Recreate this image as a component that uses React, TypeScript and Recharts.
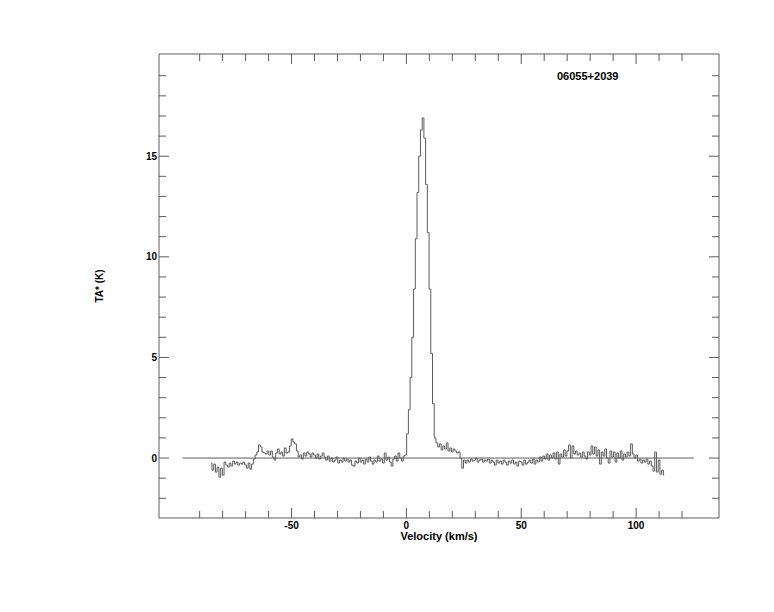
import React from 'react';
import { LineChart, Line, XAxis, YAxis } from 'recharts';

const SOURCE = '06055+2039';
const X_TITLE = 'Velocity (km/s)';
const Y_TITLE = 'TA* (K)';

// channel grid of the spectrum
const V_START = -85;
const V_STEP = 0.75;

// antenna temperature per channel (K)
const TA = [
  // -85 .. -70.75
  -0.25, -0.6, -0.3, -0.7, -0.45, -0.95, -0.5, -0.85, -0.2, -0.35, -0.45, -0.25, -0.4, -0.15, -0.3, -0.2, -0.35, -0.25, -0.3, -0.2,
  // -70 .. -55.75
  -0.35, -0.5, -0.25, -0.55, -0.3, -0.05, 0.15, 0.3, 0.65, 0.55, 0.3, 0.25, 0.2, 0.35, 0.15, 0.35, 0.05, -0.1, 0.25, 0.45,
  // -55 .. -40.75
  0.2, 0.3, 0.1, 0.5, 0.25, 0.3, 0.6, 0.95, 0.8, 0.7, 0.35, 0.05, 0.15, -0.05, 0.25, 0.1, 0.3, 0.2, 0.05, 0.25,
  // -40 .. -25.75
  0.15, 0.0, 0.2, -0.05, 0.1, 0.25, 0.05, -0.1, 0.1, -0.15, 0.0, -0.2, -0.1, 0.05, -0.25, -0.1, -0.2, 0.0, -0.15, -0.05,
  // -25 .. -10.75
  -0.2, -0.1, -0.35, -0.4, -0.15, -0.25, 0.0, -0.2, -0.1, -0.3, -0.05, -0.2, 0.05, -0.15, -0.3, -0.1, -0.2, 0.1, -0.15, -0.05,
  // -10 .. 4.25
  -0.25, 0.25, -0.1, 0.05, -0.2, -0.4, -0.05, 0.1, -0.15, 0.25, 0.0, -0.15, 0.1, 0.15, 1.2, 2.4, 4.0, 6.0, 8.4, 10.9,
  // 5 .. 19.25
  13.2, 15.0, 16.3, 16.9, 15.9, 13.6, 11.2, 8.4, 5.2, 2.7, 1.0, 0.75, 0.55, 0.7, 0.4, 0.6, 0.45, 0.75, 0.35, 0.5,
  // 20 .. 34.25
  0.3, 0.45, 0.35, 0.25, 0.3, 0.0, -0.5, -0.1, -0.25, -0.1, -0.2, -0.05, -0.15, -0.1, 0.0, -0.2, -0.1, -0.05, -0.2, -0.1,
  // 35 .. 49.25
  -0.15, -0.05, -0.25, -0.1, -0.2, -0.35, -0.1, -0.25, -0.15, -0.3, -0.1, -0.2, -0.35, -0.15, -0.25, -0.1, -0.3, -0.2, -0.4, -0.15,
  // 50 .. 64.25
  -0.2, -0.35, -0.1, -0.3, -0.2, -0.1, -0.25, -0.05, -0.3, -0.1, -0.2, 0.05, -0.15, 0.1, -0.05, 0.2, -0.1, 0.15, 0.0, 0.25,
  // 65 .. 79.25
  -0.05, 0.3, -0.3, 0.2, 0.05, 0.4, 0.1, 0.35, 0.65, 0.0, 0.6, 0.2, 0.35, 0.15, 0.25, 0.05, 0.3, 0.1, -0.05, 0.3,
  // 80 .. 94.25
  0.15, 0.6, 0.2, 0.55, 0.1, 0.4, -0.3, 0.3, 0.1, 0.45, 0.0, -0.25, 0.35, 0.05, 0.3, -0.2, 0.25, 0.0, 0.35, -0.1,
  // 95 .. 112.25
  0.2, 0.05, 0.3, 0.1, 0.7, 0.2, 0.0, 0.15, -0.15, -0.05, -0.25, -0.1, -0.2, -0.05, -0.3, -0.15, -0.4, -0.65, 0.3, -0.7, -0.1, -0.8, -0.6, -0.85,
];

// zero baseline drawn under the spectrum
const BASELINE_V = [-97.5, 125.1];

const X_DOMAIN = [-107.7, 136.1];
const Y_DOMAIN = [-2.98, 20.08];
const X_TICKS = [-90, -80, -70, -60, -50, -40, -30, -20, -10, 0, 10, 20, 30, 40, 50, 60, 70, 80, 90, 100, 110, 120];
const Y_TICKS = [-2, -1, 0, 1, 2, 3, 4, 5, 6, 7, 8, 9, 10, 11, 12, 13, 14, 15, 16, 17, 18, 19];

const AXIS = '#5c5c5c';
const INK = '#000';
const FONT = '"Liberation Sans", Arial, Helvetica, sans-serif';

const spectrum = TA.map((t, i) => ({ v: V_START + i * V_STEP, t }));
const baseline = BASELINE_V.map(v => ({ v, t: 0 }));

const isMajorX = (v: number) => v % 50 === 0;
const isMajorY = (v: number) => v % 5 === 0;

function BottomTick({ x, y, payload }: any) {
  const major = isMajorX(payload.value);
  return (
    <g>
      <line x1={x} x2={x} y1={y} y2={y - (major ? 10 : 7)} stroke={AXIS} />
      {major && (
        <text x={x} y={y + 11} textAnchor="middle" fontSize={10} fontWeight="bold" fontFamily={FONT} fill={INK}>
          {payload.value}
        </text>
      )}
    </g>
  );
}

function TopTick({ x, y, payload }: any) {
  const major = isMajorX(payload.value);
  return <line x1={x} x2={x} y1={y} y2={y + (major ? 10 : 7)} stroke={AXIS} />;
}

function LeftTick({ x, y, payload }: any) {
  const major = isMajorY(payload.value);
  return (
    <g>
      <line x1={x} x2={x + (major ? 10 : 7)} y1={y} y2={y} stroke={AXIS} />
      {major && (
        <text x={x - 2} y={y + 3.6} textAnchor="end" fontSize={10} fontWeight="bold" fontFamily={FONT} fill={INK}>
          {payload.value}
        </text>
      )}
    </g>
  );
}

function RightTick({ x, y, payload }: any) {
  const major = isMajorY(payload.value);
  return <line x1={x} x2={x - (major ? 10 : 7)} y1={y} y2={y} stroke={AXIS} />;
}

function SourceName({ viewBox }: any) {
  return (
    <text x={viewBox.x + 398} y={viewBox.y + viewBox.height + 25.5} fontSize={11} fontWeight="bold" fontFamily={FONT} fill={INK}>
      {SOURCE}
    </text>
  );
}

export default function App() {
  return (
    <LineChart width={766} height={596} margin={{ top: 36, right: 45, bottom: 50, left: 31 }}>
      <XAxis
        xAxisId="b"
        type="number"
        dataKey="v"
        domain={X_DOMAIN}
        ticks={X_TICKS}
        interval={0}
        allowDataOverflow
        height={36}
        tickSize={0}
        tickMargin={0}
        tickLine={false}
        tick={BottomTick}
        axisLine={{ stroke: AXIS }}
        label={{ value: X_TITLE, position: 'center', fontSize: 11, fontWeight: 'bold', fontFamily: FONT, fill: INK }}
      />
      <XAxis
        xAxisId="t"
        orientation="top"
        type="number"
        dataKey="v"
        domain={X_DOMAIN}
        ticks={X_TICKS}
        interval={0}
        allowDataOverflow
        height={10}
        tickSize={0}
        tickMargin={0}
        tickLine={false}
        tick={TopTick}
        axisLine={{ stroke: AXIS }}
        label={{ content: SourceName }}
      />
      <YAxis
        yAxisId="l"
        type="number"
        domain={Y_DOMAIN}
        ticks={Y_TICKS}
        interval={0}
        allowDataOverflow
        width={120}
        tickSize={0}
        tickMargin={0}
        tickLine={false}
        tick={LeftTick}
        axisLine={{ stroke: AXIS }}
        label={{ value: Y_TITLE, angle: -90, position: 'center', fontSize: 10, fontWeight: 'bold', fontFamily: FONT, fill: INK }}
      />
      <YAxis
        yAxisId="r"
        orientation="right"
        type="number"
        domain={Y_DOMAIN}
        ticks={Y_TICKS}
        interval={0}
        allowDataOverflow
        width={10}
        tickSize={0}
        tickMargin={0}
        tickLine={false}
        tick={RightTick}
        axisLine={{ stroke: AXIS }}
      />
      <Line
        xAxisId="t"
        yAxisId="r"
        data={baseline}
        dataKey="t"
        stroke={AXIS}
        strokeWidth={1}
        dot={false}
        isAnimationActive={false}
      />
      <Line
        xAxisId="b"
        yAxisId="l"
        data={spectrum}
        dataKey="t"
        type="step"
        stroke={AXIS}
        strokeWidth={1}
        dot={false}
        isAnimationActive={false}
      />
    </LineChart>
  );
}
